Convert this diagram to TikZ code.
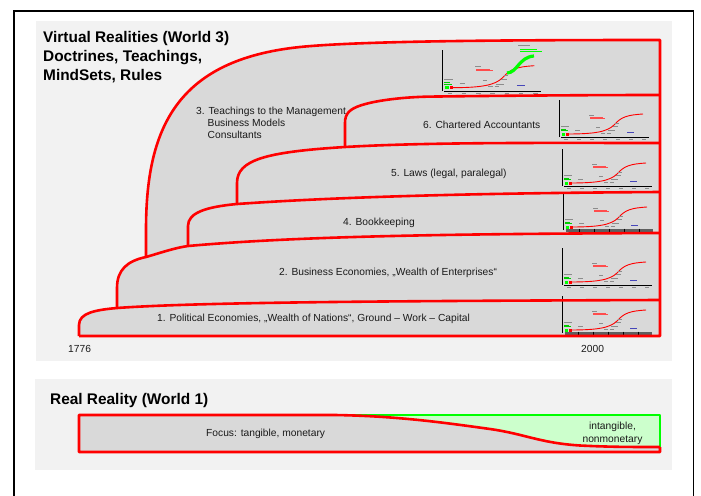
\documentclass[tikz,border=0pt]{standalone}
\usepackage{fontspec}
\setmainfont{Liberation Sans}
\definecolor{panel}{HTML}{F2F2F2}
\definecolor{layer}{HTML}{D9D9D9}
\definecolor{pred}{HTML}{FF0000}
\definecolor{pgreen}{HTML}{00FF00}
\definecolor{lgreen}{HTML}{CCFFCC}
\definecolor{txt}{HTML}{1A1A1A}
\definecolor{tiny}{HTML}{8C8C8C}
\definecolor{barg}{HTML}{5F5F5F}
\begin{document}
\begin{tikzpicture}[x=1pt,y=-1pt,
  redline/.style={draw=pred, line width=2.6pt, line join=round},
  lbl/.style={font=\fontsize{10.25}{12}\selectfont, text=txt, anchor=base west, inner sep=0pt},
  lblc/.style={font=\fontsize{10.25}{12}\selectfont, text=txt, anchor=base, inner sep=0pt},
  ttl/.style={font=\bfseries\fontsize{15.4}{18}\selectfont, text=black, anchor=base west, inner sep=0pt},
  tinymark/.style={draw=tiny, line width=0.6pt},
  pics/chartcore/.style={code={
    \draw[black, line width=1pt] (0,0) -- (0,-37);
    \draw[red, line width=0.9pt] (8,-3) .. controls (35,-3) and (48,-5) .. (55,-12)
         .. controls (62,-20) and (68,-22) .. (84,-23);
    \fill[pgreen] (3,-1.5) rectangle (6,-4.5);
    \fill[red] (7,-1.5) rectangle (10,-4.5);
    \draw[tinymark] (2,-11) -- ++(8,0);
    \draw[pgreen!80!black, line width=0.6pt] (2,-8) -- ++(5,0);
    \draw[pgreen!80!black, line width=0.6pt] (2,-6.5) -- ++(7,0);
    \draw[tinymark] (16,-7) -- ++(5,0);
    \draw[tinymark] (37,-9.5) -- ++(4,0);
    \draw[tinymark] (42,-4) -- ++(4,0);
    \draw[tinymark] (48,-4) -- ++(4,0);
    \draw[tinymark] (49,-6.5) -- ++(7,0);
    \draw[tinymark] (54,-10.5) -- ++(5,0);
    \draw[tinymark] (56,-14) -- ++(4,0);
    \draw[tinymark] (30,-22) -- ++(5,0);
    \draw[red!70, line width=0.5pt] (31,-20) -- ++(13,0);
    \draw[red!70, line width=0.5pt] (31,-18.5) -- ++(15,0);
    \draw[blue!45!gray, line width=0.7pt] (68,-5) -- ++(7,0);
  }},
  pics/axisline/.style={code={
    \draw[black, line width=0.8pt] (2,0) -- (90,0);
    \foreach \xx in {5,18,31,44,57,70,83} \draw[tinymark, line width=0.5pt] (\xx,2.2) -- ++(4,0);
  }},
  pics/axisbar/.style={code={
    \fill[barg] (3,-1.5) rectangle (90,1.5);
    \foreach \xx in {16,31,46,61,76} \draw[black, line width=0.6pt] (\xx,-1.5) -- (\xx,1.5);
  }}
]
\useasboundingbox (0,0) rectangle (701,495);
\clip (0,0) rectangle (701,495);

% outer frame
\draw[black, line width=1.8pt] (14,520) -- (14,10.8) -- (693.5,10.8) -- (693.5,520);

% panels
\fill[panel] (36,21) rectangle (672,361);
\fill[panel] (35,379) rectangle (672,470);

% layer fill (union)
\fill[layer] (79,336) -- (79,325) .. controls (79,313) and (95,310) .. (117,308)
  -- (117,288) .. controls (117,270) and (127,261) .. (146,257)
  -- (146,230) .. controls (146,130) and (175,60) .. (300,47)
  .. controls (360,41) and (500,40) .. (660,40) -- (660,336) -- cycle;

% mini charts
\pic[scale=1.1] at (442,91) {chartcore};
\pic[scale=1.1] at (442,91) {axisline};
\draw[pgreen, line width=3.2pt] (507,73) .. controls (517,73) and (519,57) .. (534,56);
\draw[tinymark] (518,45.7) -- ++(12,0);
\draw[pgreen, line width=0.6pt] (520,49) -- ++(17,0);
\draw[pgreen, line width=0.6pt] (520,51) -- ++(22,0);

\pic at (559,137) {chartcore};
\pic at (559,137) {axisline};
\pic at (562,186) {chartcore};
\pic at (562,186) {axisline};
\pic at (563,230) {chartcore};
\pic at (563,230) {axisbar};
\pic at (562,285) {chartcore};
\pic at (562,285) {axisline};
\pic at (562,333) {chartcore};
\pic at (562,333) {axisbar};

% red layer outlines
\draw[redline] (79,336) -- (79,325) .. controls (79,313) and (95,310) .. (117,308)
  .. controls (200,302) and (400,301) .. (660,300);
\draw[redline] (117,308) -- (117,288) .. controls (117,270) and (127,261) .. (146,257)
  .. controls (160,253) and (174,248) .. (188,246) .. controls (300,236) and (450,234) .. (660,233);
\draw[redline] (146,257) -- (146,230) .. controls (146,130) and (175,60) .. (300,47)
  .. controls (360,41) and (500,40) .. (660,40) -- (660,336) -- (79,336);
\draw[redline] (188,246) -- (188,226) .. controls (188,213) and (205,207) .. (237,204)
  .. controls (350,196) and (500,193) .. (660,192);
\draw[redline] (237,204) -- (237,183) .. controls (237,160) and (265,152) .. (345,147)
  .. controls (430,142) and (550,143) .. (660,143);
\draw[redline] (345,147) -- (345,123) .. controls (345,114) and (349,109) .. (362,105)
  .. controls (378,100) and (405,97) .. (430,96.6)
  .. controls (520,95.5) and (600,95) .. (660,95);

% titles
\node[ttl] (t1) at (43,43) {Virtual Realities (World 3)};
\node[ttl] (t2) at (43,62) {Doctrines, Teachings,};
\node[ttl] (t3) at (43,80) {MindSets, Rules};

% layer labels
\node[lbl] (l3a) at (196,114.5) {3. Teachings to the Management};
\node[lbl] (l3b) at (207.5,126.5) {Business Models};
\node[lbl] (l3c) at (207.5,138.5) {Consultants};
\node[lbl] (l6) at (423,128) {6. Chartered Accountants};
\node[lbl] (l5) at (391,176) {5. Laws (legal, paralegal)};
\node[lbl] (l4) at (343,225) {4. Bookkeeping};
\node[lbl] (l2) at (279,275.5) {2. Business Economies, „Wealth of Enterprises“};
\node[lbl] (l1) at (157,321) {1. Political Economies, „Wealth of Nations“, Ground – Work – Capital};
\node[lbl] (y1) at (68,352.5) {1776};
\node[lbl] (y2) at (581,352.5) {2000};

% bottom section
\node[ttl] (rr) at (50,404) {Real Reality (World 1)};
\fill[layer] (79,415) rectangle (660,452);
\fill[lgreen] (335,415) -- (660,415) -- (660,447) .. controls (630,447) and (610,447) .. (580,445.5)
  .. controls (540,443) and (525,434) .. (490,429) .. controls (440,422) and (395,416) .. (335,415) -- cycle;
\draw[pgreen, line width=2.6pt, line join=round] (335,415) -- (660,415) -- (660,447);
\draw[redline] (660,447) -- (660,452) -- (79,452) -- (79,415) -- (335,415)
  .. controls (395,416) and (440,422) .. (490,429) .. controls (525,434) and (540,443) .. (580,445.5)
  .. controls (610,447) and (630,447) .. (660,447);
\node[lbl] (fo) at (206,436) {Focus: tangible, monetary};
\node[lblc] (in1) at (612.5,429.5) {intangible,};
\node[lblc] (in2) at (612.5,442.5) {nonmonetary};
\end{tikzpicture}
\end{document}
